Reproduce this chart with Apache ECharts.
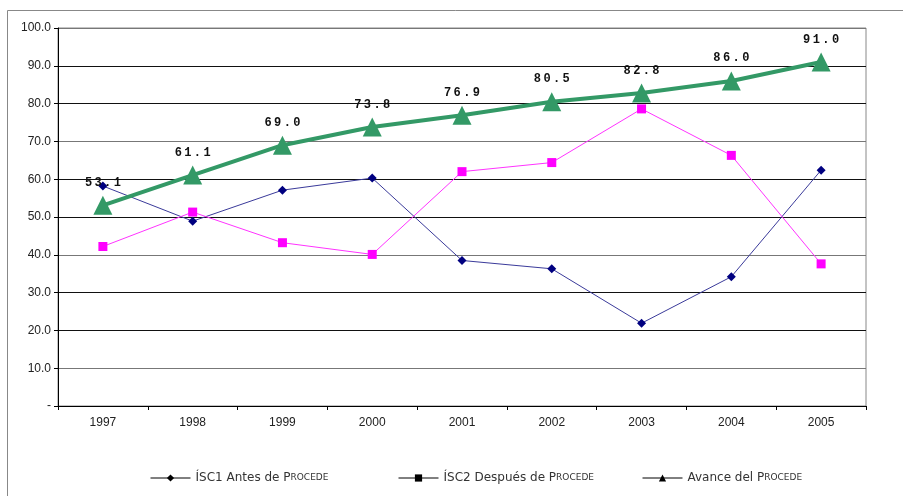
<!DOCTYPE html>
<html>
<head>
<meta charset="utf-8">
<script src="https://cdn.jsdelivr.net/npm/echarts@6/dist/echarts.min.js"></script>
<style>
  html, body { margin: 0; padding: 0; background: #fff; }
  #main { width: 903px; height: 496px; }
</style>
</head>
<body>
<div id="main"></div>
<script>
// datos
var years = ["1997", "1998", "1999", "2000", "2001", "2002", "2003", "2004", "2005"];
var isc1 = [58.2, 48.9, 57.1, 60.3, 38.5, 36.3, 21.9, 34.2, 62.4];
var isc2 = [42.2, 51.3, 43.2, 40.1, 62.0, 64.4, 78.6, 66.3, 37.6];
var avance = [53.1, 61.1, 69.0, 73.8, 76.9, 80.5, 82.8, 86.0, 91.0];
var names = ["ÍSC1 Antes de Procede", "ÍSC2 Después de Procede", "Avance del Procede"];
var legendLeft = [145, 393, 637];

var myChart = echarts.init(document.getElementById("main"));

var legendRich = {
  n: { fontFamily: "DejaVu Sans", fontSize: 12, color: "#333" },
  p: { fontFamily: "DejaVu Sans", fontSize: 12, color: "#333" },
  s: { fontFamily: "DejaVu Sans", fontSize: 9, color: "#333" }
};

// una leyenda por serie, Excel no las reparte igual
var legends = names.map(function (n, i) {
  return {
    left: legendLeft[i],
    top: 467,
    itemWidth: 40,
    itemHeight: 9,
    itemGap: 0,
    data: [
      {
        name: n,
        itemStyle: { color: "#000", borderColor: "#000" },
        lineStyle: { color: "#000", width: 1 }
      }
    ],
    formatter: function (name) {
      var k = name.indexOf("Procede");
      return "{n|" + name.slice(0, k) + "}{p|P}{s|ROCEDE}";
    },
    textStyle: { rich: legendRich }
  };
});

var option = {
  backgroundColor: "#fff",
  animation: false,
  graphic: [
    {
      type: "rect",
      shape: { x: 7.5, y: 10.5, width: 1000, height: 1000 },
      style: { fill: "none", stroke: "#888", lineWidth: 1 },
      silent: true
    }
  ],
  grid: {
    left: 58,
    top: 28,
    right: 37,
    bottom: 90,
    show: true,
    borderColor: "#888",
    borderWidth: 1
  },
  legend: legends,
  xAxis: {
    type: "category",
    data: years,
    boundaryGap: true,
    axisLine: { lineStyle: { color: "#000", width: 1 } },
    axisTick: { show: true, length: 4, lineStyle: { color: "#000" } },
    axisLabel: { color: "#222", fontFamily: "Liberation Sans", fontSize: 12, margin: 11 }
  },
  yAxis: {
    type: "value",
    min: 0,
    max: 100,
    interval: 10,
    axisLine: { show: true, lineStyle: { color: "#000", width: 1 } },
    axisTick: { show: true, length: 4, lineStyle: { color: "#000" } },
    axisLabel: {
      color: "#222",
      fontFamily: "Liberation Sans",
      fontSize: 12,
      margin: 7,
      formatter: function (v) {
        return v === 0 ? "-" : v.toFixed(1);
      }
    },
    splitLine: {
      show: true,
      lineStyle: { color: ["#111", "#777", "#111"], width: 1 }
    }
  },
  series: [
    {
      name: names[0],
      type: "line",
      data: isc1,
      symbol: "diamond",
      symbolSize: 9,
      itemStyle: { color: "#000080" },
      lineStyle: { color: "#3a3a9a", width: 1 },
      z: 3
    },
    {
      name: names[1],
      type: "line",
      data: isc2,
      symbol: "rect",
      symbolSize: 9,
      itemStyle: { color: "#ff00ff" },
      lineStyle: { color: "#ff33ff", width: 1 },
      z: 3
    },
    {
      name: names[2],
      type: "line",
      data: avance,
      symbol: "triangle",
      symbolSize: 19,
      itemStyle: { color: "#339966" },
      lineStyle: { color: "#339966", width: 4 },
      z: 4,
      label: {
        show: true,
        position: "top",
        distance: 7,
        color: "#111",
        fontFamily: "Liberation Mono",
        fontWeight: "bold",
        fontSize: 12,
        formatter: function (p) {
          return p.value.toFixed(1).split("").join("\u2009");
        }
      }
    }
  ]
};

myChart.setOption(option);
</script>
</body>
</html>
